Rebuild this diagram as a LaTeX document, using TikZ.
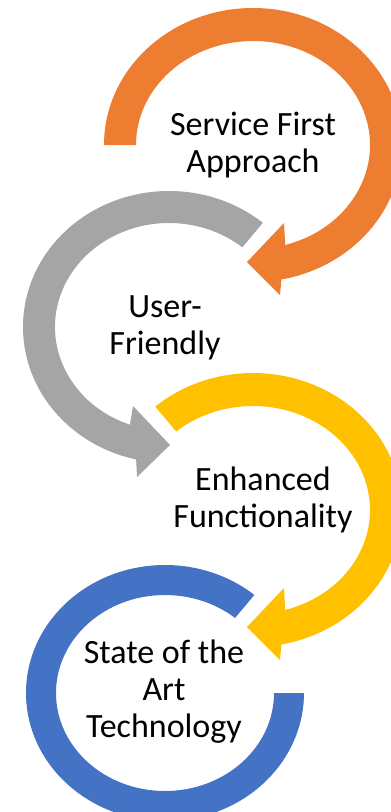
\documentclass[tikz,border=0pt]{standalone}
\usepackage{fontspec}
\setmainfont{Carlito}
\definecolor{cOrange}{HTML}{ED7D31}
\definecolor{cGray}{HTML}{A5A5A5}
\definecolor{cYellow}{HTML}{FFC000}
\definecolor{cBlue}{HTML}{4472C4}
\begin{document}
\begin{tikzpicture}[x=1pt,y=1pt,
  lbl/.style={align=center,inner sep=0pt,font=\fontsize{34}{37}\selectfont,text=black}]
\useasboundingbox (0,0) rectangle (391,-812);
\clip (0,0) rectangle (391,-812);
% centres
\coordinate (Oc) at (253,-145);
\coordinate (Gc) at (169,-327);
\coordinate (Yc) at (253,-510);
\coordinate (Bc) at (165,-693);
% orange ring
\fill[cOrange] (Oc) ++(180:149pt and 137pt)
  arc[start angle=180,end angle=-79,x radius=149pt,y radius=137pt]
  -- (280,-295) -- (247,-262) -- (284,-223)
  -- ([shift={(-74:117pt and 104pt)}]Oc)
  arc[start angle=-74,end angle=180,x radius=117pt,y radius=104pt] -- cycle;
% gray ring
\fill[cGray] (Gc) ++(50:146pt and 136pt)
  arc[start angle=50,end angle=257,x radius=146pt,y radius=136pt]
  -- (137,-477) -- (170,-445) -- (133,-406)
  -- ([shift={(250:114pt and 104pt)}]Gc)
  arc[start angle=250,end angle=50,x radius=114pt,y radius=104pt] -- cycle;
% yellow ring
\fill[cYellow] (Yc) ++(131:149pt and 137pt)
  arc[start angle=131,end angle=-79,x radius=149pt,y radius=137pt]
  -- (280,-660) -- (247,-627) -- (284,-588)
  -- ([shift={(-74:117pt and 104pt)}]Yc)
  arc[start angle=-74,end angle=131,x radius=117pt,y radius=104pt] -- cycle;
% blue ring
\fill[cBlue] (Bc) ++(50:139pt and 128pt)
  arc[start angle=50,end angle=360,x radius=139pt,y radius=128pt]
  -- ([shift={(0:109pt and 98pt)}]Bc)
  arc[start angle=360,end angle=50,x radius=109pt,y radius=98pt] -- cycle;
% labels
\node[lbl] (t1) at (253,-145.5) {Service First\\Approach};
\node[lbl] (t2) at (165,-328) {User-\\Friendly};
\node[lbl] (t3) at (263,-500) {Enhanced\\Functionality};
\node[lbl] (t4) at (164,-691.5) {State of the\\Art\\Technology};
\end{tikzpicture}
\end{document}
